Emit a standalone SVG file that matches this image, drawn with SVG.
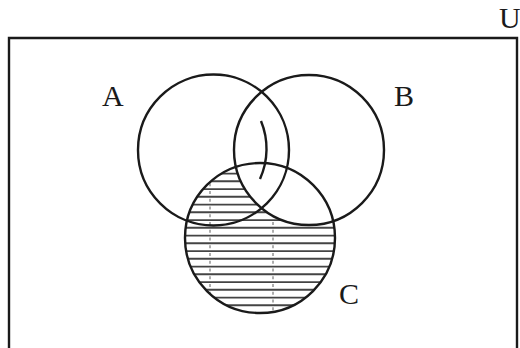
<svg xmlns="http://www.w3.org/2000/svg" width="520" height="348" viewBox="0 0 520 348">
<style>
.outline{fill:none;stroke:#1a1a1a;stroke-width:2.4}
.hatch line{stroke:#444;stroke-width:1.9}
.lbl{font-family:"Liberation Serif","DejaVu Serif",serif;font-size:30px;fill:#1a1a1a}
</style>
<defs>
<mask id="cMinusB">
<rect x="0" y="0" width="520" height="348" fill="black"/>
<circle cx="260" cy="238" r="75" fill="white"/>
<circle cx="309" cy="150" r="75" fill="black"/>
</mask>
</defs>
<rect width="520" height="348" fill="#fff"/>
<g id="universe">
<path d="M9,348 V38 H517 V348" class="outline" stroke-width="2.2"/>
<text class="lbl" x="499" y="28">U</text>
</g>
<g id="shading" mask="url(#cMinusB)">
<g class="hatch">
<line x1="180" y1="165.8" x2="340" y2="165.8"/>
<line x1="180" y1="173.6" x2="340" y2="173.6"/>
<line x1="180" y1="181.3" x2="340" y2="181.3"/>
<line x1="180" y1="189.1" x2="340" y2="189.1"/>
<line x1="180" y1="196.8" x2="340" y2="196.8"/>
<line x1="180" y1="204.6" x2="340" y2="204.6"/>
<line x1="180" y1="212.3" x2="340" y2="212.3"/>
<line x1="180" y1="220.1" x2="340" y2="220.1"/>
<line x1="180" y1="227.8" x2="340" y2="227.8"/>
<line x1="180" y1="235.6" x2="340" y2="235.6"/>
<line x1="180" y1="243.3" x2="340" y2="243.3"/>
<line x1="180" y1="251.1" x2="340" y2="251.1"/>
<line x1="180" y1="258.8" x2="340" y2="258.8"/>
<line x1="180" y1="266.6" x2="340" y2="266.6"/>
<line x1="180" y1="274.3" x2="340" y2="274.3"/>
<line x1="180" y1="282.1" x2="340" y2="282.1"/>
<line x1="180" y1="289.8" x2="340" y2="289.8"/>
<line x1="180" y1="297.6" x2="340" y2="297.6"/>
<line x1="180" y1="305.3" x2="340" y2="305.3"/>
</g>
<line x1="210" y1="160" x2="210" y2="315" stroke="#333" stroke-width="0.8" stroke-dasharray="3,4.75"/>
<line x1="273" y1="160" x2="273" y2="315" stroke="#333" stroke-width="0.8" stroke-dasharray="3,4.75"/>
</g>
<g id="setA">
<circle cx="213.5" cy="150" r="75.5" class="outline"/>
<text class="lbl" x="102" y="106">A</text>
</g>
<g id="setB">
<circle cx="309" cy="150" r="75" class="outline"/>
<text class="lbl" x="394" y="106">B</text>
</g>
<g id="setC">
<circle cx="260" cy="238" r="75" class="outline"/>
<text class="lbl" x="339" y="304">C</text>
</g>
<g id="connectors">
<path d="M261,121 A73,73 0 0 1 260,179" class="outline"/>
</g>
</svg>
